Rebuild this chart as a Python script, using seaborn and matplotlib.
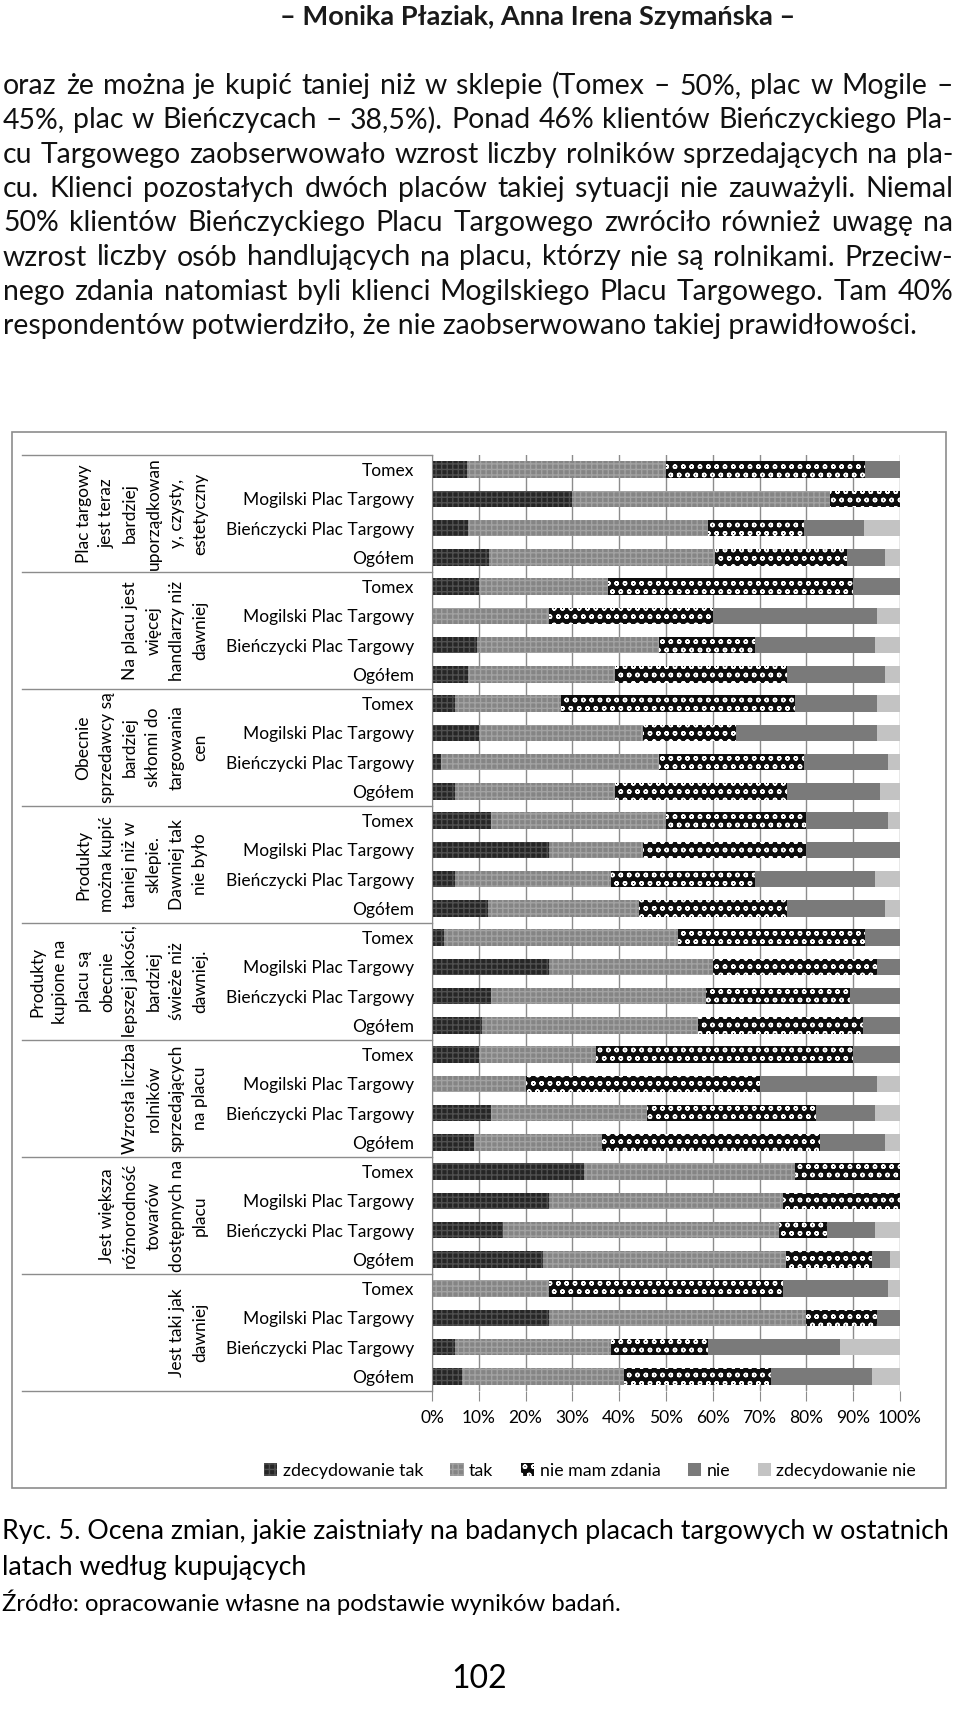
import numpy as np
import pandas as pd
import matplotlib
matplotlib.use('Agg')
import matplotlib.pyplot as plt
import matplotlib.transforms as mtransforms
from matplotlib.patches import Patch, Rectangle
from matplotlib.lines import Line2D
import seaborn as sns

# --- data (percent of answers, rows top to bottom) ---
groups = [
    "Plac targowy\njest teraz\nbardziej\nuporządkowan\ny, czysty,\nestetyczny",
    "Na placu jest\nwięcej\nhandlarzy niż\ndawniej",
    "Obecnie\nsprzedawcy są\nbardziej\nskłonni do\ntargowania\ncen",
    "Produkty\nmożna kupić\ntaniej niż w\nsklepie.\nDawniej tak\nnie było",
    "Produkty\nkupione na\nplacu są\nobecnie\nlepszej jakości,\nbardziej\nświeże niż\ndawniej.",
    "Wzrosła liczba\nrolników\nsprzedających\nna placu",
    "Jest większa\nróżnorodność\ntowarów\ndostępnych na\nplacu",
    "Jest taki jak\ndawniej",
]
places = ["Tomex", "Mogilski Plac Targowy", "Bieńczycki Plac Targowy", "Ogółem"]
answers = ["zdecydowanie tak", "tak", "nie mam zdania", "nie", "zdecydowanie nie"]

zdecydowanie_tak = [7.5, 30, 7.7, 12.1, 10, 0, 9.7, 7.6, 5, 10, 1.9, 5, 12.5, 25, 5, 12,
                    2.5, 25, 12.5, 10.7, 10, 0, 12.5, 8.9, 32.5, 25, 15.2, 23.8, 0, 25, 5, 6.5]
tak = [42.5, 55, 51.3, 48.4, 27.5, 25, 38.9, 31.5, 22.5, 35, 46.7, 34.1, 37.5, 20, 33.3, 32.3,
       50, 35, 46.1, 46.1, 25, 20, 33.4, 27.4, 45, 50, 59, 51.8, 25, 55, 33.3, 34.5]
nie_mam_zdania = [42.5, 15, 20.5, 28.1, 52.5, 35, 20.5, 36.7, 50, 20, 30.8, 36.7, 30, 35, 30.8, 31.5,
                  40, 35, 30.8, 35.2, 55, 50, 36.2, 46.5, 22.5, 25, 10.3, 18.4, 50, 15, 20.7, 31.5]
nie = [7.5, 0, 12.8, 8.3, 10, 35, 25.6, 21.1, 17.5, 30, 18, 19.9, 17.5, 20, 25.6, 21.1,
       7.5, 5, 10.6, 8, 10, 25, 12.6, 14.1, 0, 0, 10.2, 3.9, 22.5, 5, 28.2, 21.5]
zdecydowanie_nie = [0, 0, 7.7, 3.1, 0, 5, 5.3, 3.1, 5, 5, 2.6, 4.3, 2.5, 0, 5.3, 3.1,
                    0, 0, 0, 0, 0, 5, 5.3, 3.1, 0, 0, 5.3, 2.1, 2.5, 0, 12.8, 6]
xticks = list(range(0, 101, 10))

paragraph = [
    "oraz że można je kupić taniej niż w sklepie (Tomex – 50%, plac w Mogile –",
    "45%, plac w Bieńczycach – 38,5%). Ponad 46% klientów Bieńczyckiego Pla-",
    "cu Targowego zaobserwowało wzrost liczby rolników sprzedających na pla-",
    "cu. Klienci pozostałych dwóch placów takiej sytuacji nie zauważyli. Niemal",
    "50% klientów Bieńczyckiego Placu Targowego zwróciło również uwagę na",
    "wzrost liczby osób handlujących na placu, którzy nie są rolnikami. Przeciw-",
    "nego zdania natomiast byli klienci Mogilskiego Placu Targowego. Tam 40%",
    "respondentów potwierdziło, że nie zaobserwowano takiej prawidłowości.",
]

plt.rcParams['font.family'] = ['Lato', 'DejaVu Sans']
plt.rcParams['hatch.linewidth'] = 1.0

W, H = 960, 1721
fig = plt.figure(figsize=(W / 100, H / 100), dpi=100)
fx = lambda px: px / W
fy = lambda py: 1 - py / H

# page header
fig.text(fx(538), fy(17), "– Monika Płaziak, Anna Irena Szymańska –", ha='center', va='center',
         fontsize=19.6, weight='bold', color='#1a1a1a')

# justified paragraph
renderer = fig.canvas.get_renderer()
x0, x1 = fx(3), fx(953)
for i, line in enumerate(paragraph):
    y = fy(94 + 34.3 * i)
    if i == len(paragraph) - 1:
        fig.text(x0, y, line, fontsize=20.4, va='baseline', color='#111111')
        continue
    words = line.split(' ')
    txts = [fig.text(0, y, w, fontsize=20.4, va='baseline', color='#111111') for w in words]
    widths = [t.get_window_extent(renderer).width / W for t in txts]
    gap = (x1 - x0 - sum(widths)) / (len(words) - 1)
    x = x0
    for t, w in zip(txts, widths):
        t.set_x(x)
        x += w + gap

# chart frame
fig.add_artist(Rectangle((fx(12), fy(1488)), fx(946) - fx(12), fy(432) - fy(1488),
                         transform=fig.transFigure, fill=False, ec='#8c8c8c', lw=1.2))

ax = fig.add_axes([fx(432), fy(1391), fx(900) - fx(432), fy(455) - fy(1391)])

rows = [f"{g}|{p}" for g in range(len(groups)) for p in places]
df = pd.DataFrame({'row': rows, answers[0]: zdecydowanie_tak, answers[1]: tak,
                   answers[2]: nie_mam_zdania, answers[3]: nie, answers[4]: zdecydowanie_nie})
cum = df[answers].cumsum(axis=1)

styles = {
    "zdecydowanie tak": dict(color='#262626', hatch='+++', edgecolor='#505050'),
    "tak": dict(color='#858585', hatch='+++', edgecolor='#a2a2a2'),
    "nie mam zdania": dict(color='#0d0d0d', hatch='oo', edgecolor='#ffffff'),
    "nie": dict(color='#7a7a7a', hatch=None, edgecolor='#7a7a7a'),
    "zdecydowanie nie": dict(color='#c3c3c3', hatch=None, edgecolor='#c3c3c3'),
}

# stacked bars: draw cumulative totals from the last answer to the first
for a in reversed(answers):
    st = styles[a]
    plot_df = pd.DataFrame({'row': rows, 'val': cum[a]})
    sns.barplot(data=plot_df, x='val', y='row', orient='h', order=rows, color=st['color'],
                saturation=1, width=0.56, errorbar=None, hatch=st['hatch'],
                edgecolor=st['edgecolor'], linewidth=0, ax=ax)

ax.set_xlim(0, 100)
ax.set_ylim(len(rows) - 0.5, -0.5)
ax.set_xticks(xticks)
ax.set_xticklabels([f"{v}%" for v in xticks], fontsize=12.5)
ax.set_yticks(range(len(rows)))
ax.set_yticklabels(places * len(groups), fontsize=12.5)
ax.set_xlabel('')
ax.set_ylabel('')
ax.xaxis.grid(True, color='#8c8c8c', lw=1)
ax.set_axisbelow(True)
for s in ['top', 'bottom', 'right']:
    ax.spines[s].set_visible(False)
ax.spines['left'].set_color('#8c8c8c')
ax.tick_params(axis='y', length=0, pad=13)
ax.tick_params(axis='x', length=7, color='#8c8c8c', pad=7)

# category table: separators and group labels
blend = mtransforms.blended_transform_factory(fig.transFigure, ax.transData)
for g in range(len(groups) + 1):
    yb = -0.5 + 4 * g
    ax.add_line(Line2D([fx(22), fx(432)], [yb, yb], transform=blend, color='#8c8c8c',
                       lw=1, clip_on=False))
for g, label in enumerate(groups):
    lines = label.split('\n')
    n = len(lines)
    for k, ln in enumerate(lines):
        ax.text(fx(200 - 23.3 * (n - 1 - k)), 4 * g + 1.5, ln, transform=blend, rotation=90,
                ha='center', va='center', fontsize=12.5)

handles = [Patch(facecolor=styles[a]['color'], hatch=styles[a]['hatch'],
                 edgecolor=styles[a]['edgecolor'], lw=0) for a in answers]
fig.legend(handles, answers, loc='center', bbox_to_anchor=(fx(590), fy(1471)), ncol=5,
           frameon=False, fontsize=12.8, handlelength=0.75, handleheight=0.75,
           handletextpad=0.3, columnspacing=1.55)

# caption
fig.text(fx(2), fy(1532), "Ryc. 5. Ocena zmian, jakie zaistniały na badanych placach targowych w ostatnich",
         fontsize=19.3, va='center')
fig.text(fx(2), fy(1568), "latach według kupujących", fontsize=19.3, va='center')
fig.text(fx(2), fy(1602), "Źródło: opracowanie własne na podstawie wyników badań.", fontsize=17.2, va='center')
fig.text(fx(479), fy(1679), "102", fontsize=23, ha='center', va='center')

fig.savefig('out.png', dpi=100)
